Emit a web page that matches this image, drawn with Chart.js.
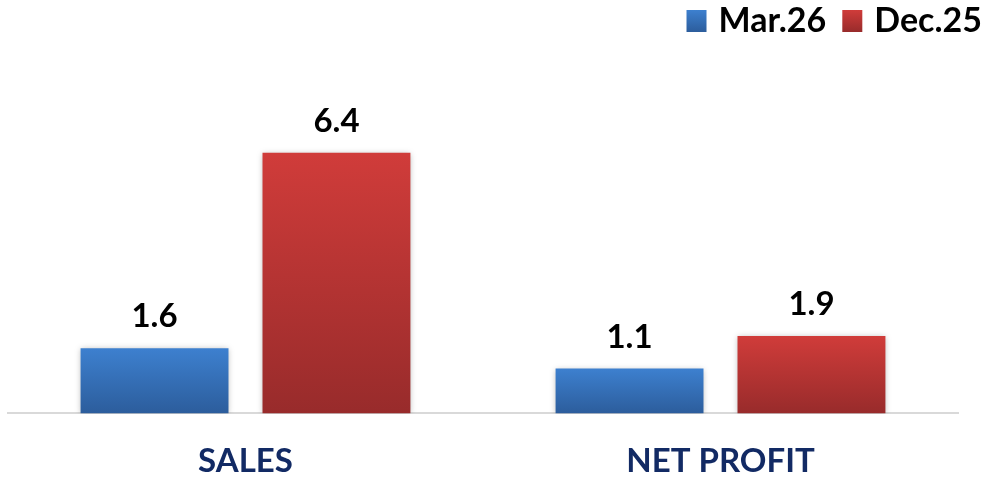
<!DOCTYPE html>
<html>
<head>
<meta charset="utf-8">
<script src="https://cdn.jsdelivr.net/npm/chart.js@4.4.1/dist/chart.umd.min.js"></script>
<style>
  html, body { margin: 0; padding: 0; background: #ffffff; }
  #wrap { width: 992px; height: 478px; }
</style>
</head>
<body>
<div id="wrap"><canvas id="chart"></canvas></div>
<script>
// Chart data
const categories = ['SALES', 'NET PROFIT'];
const seriesNames = ['Mar.26', 'Dec.25'];
const mar26Values = [1.6, 1.1];
const dec25Values = [6.4, 1.9];

const FONT = 'Lato, "Open Sans", sans-serif';

// Bar fill: vertical gradient from the bar top down to the baseline
const palettes = [
  { top: '#3d80cf', bottom: '#2c5d9c', flat: '#3672bb' },
  { top: '#d03c3a', bottom: '#982b2b', flat: '#c23634' }
];

function barFill(paletteIndex) {
  return function (ctx) {
    const p = palettes[paletteIndex];
    const chart = ctx.chart;
    if (ctx.type !== 'data' || !chart.chartArea) return p.flat;
    const y = chart.scales.y;
    const yTop = y.getPixelForValue(ctx.raw);
    const yBase = y.getPixelForValue(0);
    if (!isFinite(yTop) || !isFinite(yBase) || yTop === yBase) return p.flat;
    const g = chart.ctx.createLinearGradient(0, yTop, 0, yBase);
    g.addColorStop(0, p.top);
    g.addColorStop(1, p.bottom);
    return g;
  };
}

// Soft shadow behind the bars
const barShadow = {
  id: 'barShadow',
  beforeDatasetDraw(chart) {
    const c = chart.ctx;
    c.save();
    c.shadowColor = 'rgba(0,0,0,0.28)';
    c.shadowBlur = 6;
    c.shadowOffsetX = 0;
    c.shadowOffsetY = 1;
  },
  afterDatasetDraw(chart) {
    chart.ctx.restore();
  }
};

// Value labels above each bar
const valueLabels = {
  id: 'valueLabels',
  afterDatasetsDraw(chart) {
    const c = chart.ctx;
    c.save();
    c.font = 'bold 33px ' + FONT;
    c.fillStyle = '#000000';
    c.textAlign = 'center';
    c.textBaseline = 'alphabetic';
    chart.data.datasets.forEach((ds, di) => {
      const meta = chart.getDatasetMeta(di);
      meta.data.forEach((bar, i) => {
        c.fillText(ds.data[i].toFixed(1), bar.x, bar.y - 21);
      });
    });
    c.restore();
  }
};

// Series key in the top-right corner, laid out right to left
const cornerLegend = {
  id: 'cornerLegend',
  afterDraw(chart) {
    const c = chart.ctx;
    const rightEdge = chart.width - 10;
    const box = 20, boxGap = 12, itemGap = 16, baseline = 32;
    c.save();
    c.font = 'bold 34px ' + FONT;
    c.textBaseline = 'alphabetic';
    c.textAlign = 'left';
    let x = rightEdge;
    for (let i = chart.data.datasets.length - 1; i >= 0; i--) {
      const label = chart.data.datasets[i].label;
      const w = c.measureText(label).width;
      x -= w;
      c.fillStyle = '#000000';
      c.fillText(label, x, baseline);
      x -= boxGap + box;
      const g = c.createLinearGradient(0, baseline - 22, 0, baseline);
      g.addColorStop(0, palettes[i].top);
      g.addColorStop(1, palettes[i].bottom);
      c.fillStyle = g;
      c.fillRect(x, baseline - 22, box, 22);
      x -= itemGap;
    }
    c.restore();
  }
};

new Chart(document.getElementById('chart'), {
  type: 'bar',
  data: {
    labels: categories,
    datasets: [
      { label: seriesNames[0], data: mar26Values, backgroundColor: barFill(0), borderWidth: 0 },
      { label: seriesNames[1], data: dec25Values, backgroundColor: barFill(1), borderWidth: 0 }
    ]
  },
  options: {
    responsive: true,
    maintainAspectRatio: false,
    animation: false,
    devicePixelRatio: 1,
    layout: { padding: { left: 8, right: 34, top: 47, bottom: -31 } },
    datasets: {
      bar: { categoryPercentage: 0.766, barPercentage: 0.813 }
    },
    plugins: {
      legend: { display: false },
      tooltip: { enabled: false }
    },
    scales: {
      x: {
        grid: { display: false, drawTicks: false },
        border: { display: true, color: '#d9d9d9', width: 2 },
        ticks: {
          padding: 28,
          color: '#122a64',
          font: { family: FONT, size: 33, weight: 'bold' }
        }
      },
      y: {
        display: false,
        min: 0,
        max: 9
      }
    }
  },
  plugins: [barShadow, valueLabels, cornerLegend]
});
</script>
</body>
</html>
